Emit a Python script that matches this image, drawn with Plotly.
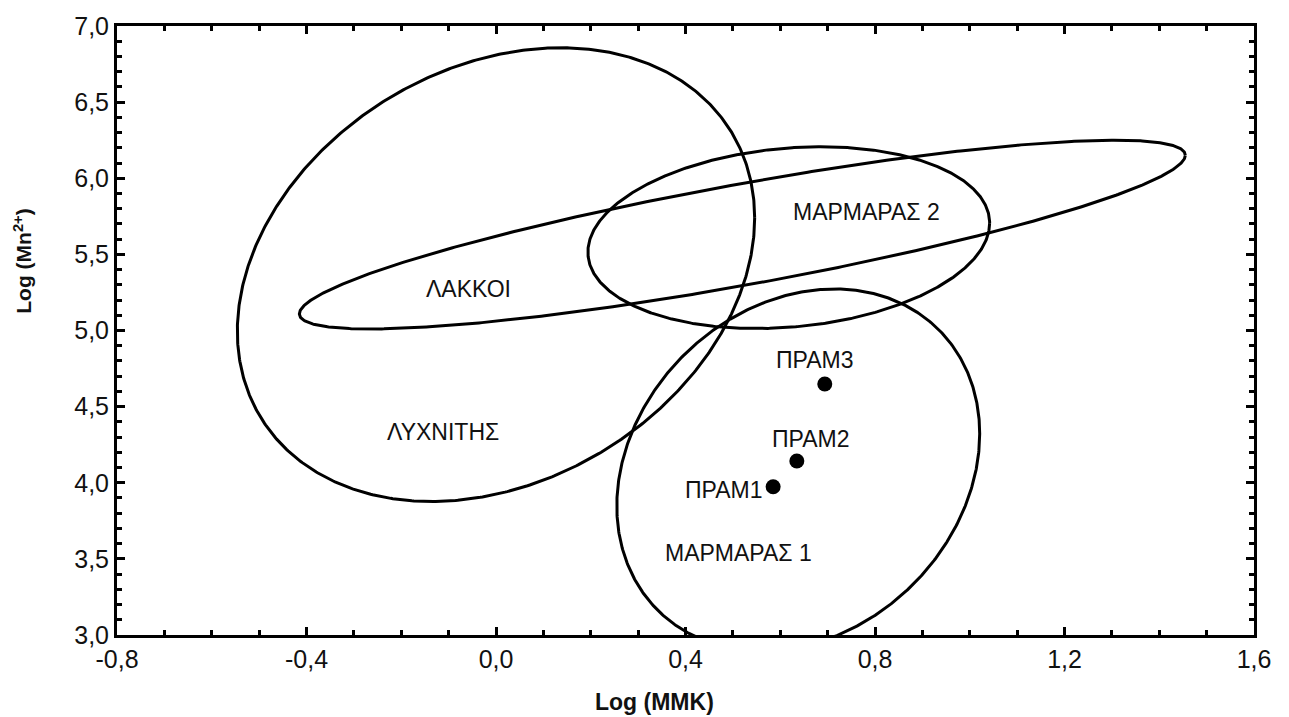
import numpy as np
import plotly.graph_objects as go

# Confidence-ellipse groups (data units)
groups = ["ΛΥΧΝΙΤΗΣ", "ΛΑΚΚΟΙ", "ΜΑΡΜΑΡΑΣ 2", "ΜΑΡΜΑΡΑΣ 1"]
center_x = [0.0, 0.52, 0.618, 0.638]
center_y = [5.367, 5.63, 5.61, 4.084]
half_x = [0.546, 0.935, 0.424, 0.383]
half_y = [1.49, 0.62, 0.597, 1.189]
corr = [0.25, 0.84, 0.16, 0.2]
label_x = [-0.112, -0.059, 0.781, 0.511]
label_y = [4.331, 5.273, 5.779, 3.539]

# Sample points
samples = ["ΠΡΑΜ1", "ΠΡΑΜ2", "ΠΡΑΜ3"]
sample_x = [0.585, 0.635, 0.694]
sample_y = [3.974, 4.143, 4.649]

# Axis ticks
x_tick_vals = [-0.8, -0.4, 0.0, 0.4, 0.8, 1.2, 1.6]
x_tick_labels = ["-0,8", "-0,4", "0,0", "0,4", "0,8", "1,2", "1,6"]
y_tick_vals = [3.0, 3.5, 4.0, 4.5, 5.0, 5.5, 6.0, 6.5, 7.0]
y_tick_labels = ["3,0", "3,5", "4,0", "4,5", "5,0", "5,5", "6,0", "6,5", "7,0"]

FONT = "Arial, Liberation Sans, Helvetica, sans-serif"

fig = go.Figure()

t = np.linspace(0, 2 * np.pi, 721)
for i, g in enumerate(groups):
    d = np.arccos(corr[i])
    ex = center_x[i] + half_x[i] * np.cos(t)
    ey = center_y[i] + half_y[i] * np.cos(t + d)
    fig.add_trace(go.Scatter(x=ex, y=ey, mode="lines",
                             line=dict(color="black", width=3),
                             hoverinfo="skip", showlegend=False))

fig.add_trace(go.Scatter(x=sample_x, y=sample_y, mode="markers",
                         marker=dict(color="black", size=15),
                         showlegend=False))

annotations = []
for i, g in enumerate(groups):
    annotations.append(dict(x=label_x[i], y=label_y[i], text=g, showarrow=False,
                            font=dict(family=FONT, size=23, color="#111"),
                            xanchor="center", yanchor="middle"))

sample_pos = [dict(xanchor="right", yanchor="middle", xshift=-8, yshift=-3),
              dict(xanchor="center", yanchor="middle", xshift=14, yshift=22),
              dict(xanchor="center", yanchor="middle", xshift=-10, yshift=24)]
for i, s in enumerate(samples):
    annotations.append(dict(x=sample_x[i], y=sample_y[i], text=s, showarrow=False,
                            font=dict(family=FONT, size=23, color="#111"),
                            **sample_pos[i]))

annotations.append(dict(xref="paper", yref="paper", x=0.473, y=-0.110,
                        text="<b>Log (MMK)</b>", showarrow=False,
                        font=dict(family=FONT, size=23, color="#111"),
                        xanchor="center", yanchor="middle"))
annotations.append(dict(xref="paper", yref="paper", x=-0.083, y=0.614,
                        text="<b>Log (Mn<sup>2+</sup>)</b>", showarrow=False,
                        textangle=-90,
                        font=dict(family=FONT, size=21, color="#111"),
                        xanchor="center", yanchor="middle"))

axis_common = dict(showgrid=False, zeroline=False, showline=True,
                   linecolor="black", linewidth=3, mirror="allticks",
                   ticks="inside", ticklen=8, tickwidth=3, tickcolor="black",
                   tickfont=dict(family=FONT, size=25, color="#111"))

fig.update_layout(
    width=1289, height=717, autosize=False,
    margin=dict(l=117, r=35, t=19, b=82),
    paper_bgcolor="white", plot_bgcolor="white",
    annotations=annotations,
    xaxis=dict(range=[-0.8, 1.6], tickmode="array", tickvals=x_tick_vals,
               ticktext=x_tick_labels,
               minor=dict(dtick=0.1, tick0=-0.8, ticks="inside", ticklen=5,
                          tickwidth=2.5, tickcolor="black", showgrid=False),
               **axis_common),
    yaxis=dict(range=[3.0, 7.0], tickmode="array", tickvals=y_tick_vals,
               ticktext=y_tick_labels,
               minor=dict(dtick=0.1, tick0=3.0, ticks="inside", ticklen=5,
                          tickwidth=2.5, tickcolor="black", showgrid=False),
               **axis_common),
)

fig.write_html("out.html")
